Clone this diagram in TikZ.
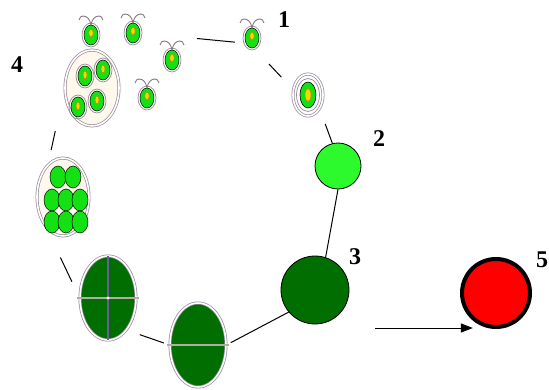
\documentclass[tikz,border=0pt]{standalone}
\usepackage{fontspec}
\setmainfont{Liberation Serif}
\usetikzlibrary{shapes.geometric, arrows.meta, positioning}

\definecolor{cellgreen}{RGB}{20,225,20}
\definecolor{lightgreen}{RGB}{45,250,45}
\definecolor{darkgreen}{RGB}{0,110,0}
\definecolor{ringgray}{RGB}{150,138,155}
\definecolor{cream}{RGB}{255,248,236}
\definecolor{spotyellow}{RGB}{245,215,0}
\definecolor{spotorange}{RGB}{205,125,0}
\definecolor{flaggray}{RGB}{135,120,130}
\definecolor{crossgray}{RGB}{178,172,162}
\definecolor{crossblue}{RGB}{105,95,160}

\tikzset{
  link/.style={black, line width=1pt},
  num/.style={font=\fontsize{24}{28}\selectfont\bfseries, inner sep=0pt},
  halo/.style={draw=ringgray, line width=0.7pt},
  cell/.style={ellipse, draw=black, line width=0.5pt, fill=cellgreen,
    minimum width=14pt, minimum height=20pt, inner sep=0pt},
  bead/.style={ellipse, draw=black, line width=0.5pt, fill=cellgreen,
    minimum width=16pt, minimum height=22pt, inner sep=0pt},
  spot/.style={fill=spotyellow, draw=spotorange, line width=0.5pt},
  flagellum/.style={draw=flaggray, line width=0.9pt},
  wall/.style={ellipse, draw=ringgray, line width=0.7pt, double=white,
    double distance=1.6pt, inner sep=0pt},
  % motile zoospore with two flagella
  pics/flagellate/.style={code={
    \draw[halo] (0,0) ellipse (9 and 12);
    \node[cell] (-body) at (0,0) {};
    \draw[spot] (0,-2) ellipse (2.2 and 4);
    \draw[flagellum] (0,-10) .. controls (-1,-16) and (-4,-19) .. (-8,-19)
      .. controls (-10,-19) and (-11,-18) .. (-12,-15);
    \draw[flagellum] (0,-10) .. controls (1,-16) and (4,-19) .. (8,-19)
      .. controls (10,-19) and (11,-18) .. (12,-15);
  }},
  % zoospore still inside the sporangium
  pics/spore/.style={code={
    \draw[halo] (0,0) ellipse (9 and 12);
    \node[cell] (-body) at (0,0) {};
    \draw[spot] (0,-1) ellipse (2 and 4);
  }}
}

\begin{document}
\begin{tikzpicture}[x=1pt, y=-1pt, >={Triangle[length=12pt, width=9pt]}]
  \useasboundingbox (0,0) rectangle (549,390);

  % sporangium releasing four zoospores
  \node[wall, fill=cream, minimum width=54pt, minimum height=76pt] (sac) at (92,88) {};
  \pic (s1) at (85,76) {spore};
  \pic (s2) at (103,70) {spore};
  \pic (s3) at (78,107) {spore};
  \pic (s4) at (97,101) {spore};

  % free swimming cells
  \pic (fA) at (91,35) {flagellate};
  \pic (fB) at (133,33) {flagellate};
  \pic (fC) at (172,60) {flagellate};
  \pic (fD) at (147,98) {flagellate};
  \pic (fE) at (252,38) {flagellate};

  % cell losing its flagella
  \node[wall, fill=white, minimum width=30pt, minimum height=42pt] (cyst) at (308,95) {};
  \draw[halo] (cyst.center) ellipse (11.5 and 16.5);
  \node[ellipse, draw=black, line width=0.6pt, fill=cellgreen, inner sep=0pt,
    minimum width=16pt, minimum height=26pt] (cystcore) at (cyst.center) {};
  \draw[spot] (cyst.center) ellipse (3 and 6.5);

  % growing green cell, then resting cell
  \node[circle, draw=black, line width=0.8pt, fill=lightgreen, minimum size=46pt,
    inner sep=0pt] (c2) at (338,166) {};
  \node[circle, draw=black, line width=0.8pt, fill=darkgreen, minimum size=68pt,
    inner sep=0pt] (c3) at (315,290) {};

  % first division
  \node[wall, fill=darkgreen, minimum width=56pt, minimum height=84pt] (ellB) at (198,345) {};
  \draw[crossgray, line width=2.2pt] ([xshift=-3pt]ellB.west) -- ([xshift=3pt]ellB.east);

  % second division
  \node[wall, fill=darkgreen, minimum width=56pt, minimum height=84pt] (ellL) at (108,298) {};
  \draw[crossblue, line width=1.8pt] (ellL.north) -- (ellL.south);
  \draw[crossgray, line width=2.2pt] ([xshift=-3pt]ellL.west) -- ([xshift=3pt]ellL.east);
  \fill[white!85!crossgray] (ellL.center) circle (1.6pt);

  % eight cell stage
  \node[wall, fill=cream, minimum width=52pt, minimum height=78pt] (cluster) at (63,197) {};
  \foreach \x/\y [count=\k] in {58/177, 73/177, 52/200, 66/200, 80/200, 52/222, 66/222, 80/222}
    \node[bead] (b\k) at (\x,\y) {};

  % red resting cell
  \node[circle, draw=black, line width=4pt, fill=red, minimum size=68pt,
    inner sep=0pt] (c5) at (496,293) {};

  % pieces of the cycle
  \draw[link, shorten <=57pt, shorten >=11pt] (fB-body.east) -- (fE-body.220);
  \draw[link, shorten <=22pt, shorten >=17pt] (fE-body.-80) -- (cyst.160);
  \draw[link, shorten <=16pt] (cyst.-50) -- (c2.104);
  \draw[link] (c2.south) -- (c3.72);
  \draw[link, shorten >=5pt] (c3.220) -- (ellB.east);
  \draw[link, shorten <=6pt, shorten >=14pt] (ellB.west) -- (ellL.-60);
  \draw[link, shorten <=18pt, shorten >=34pt] (ellL.west) -- (cluster.240);
  \draw[link, shorten <=15pt, shorten >=44pt] (cluster.115) -- (sac.west);

  % arrow to the red cell
  \coordinate (arr) at (375,328);
  \draw[->, line width=1pt] (arr) -- (arr -| c5.230);

  % stage numbers
  \node[num] (n1) at (284,20) {1};
  \node[num] (n2) at (379,139) {2};
  \node[num] (n3) at (355,257) {3};
  \node[num] (n4) at (17,65) {4};
  \node[num] (n5) at (542,260) {5};
\end{tikzpicture}
\end{document}
